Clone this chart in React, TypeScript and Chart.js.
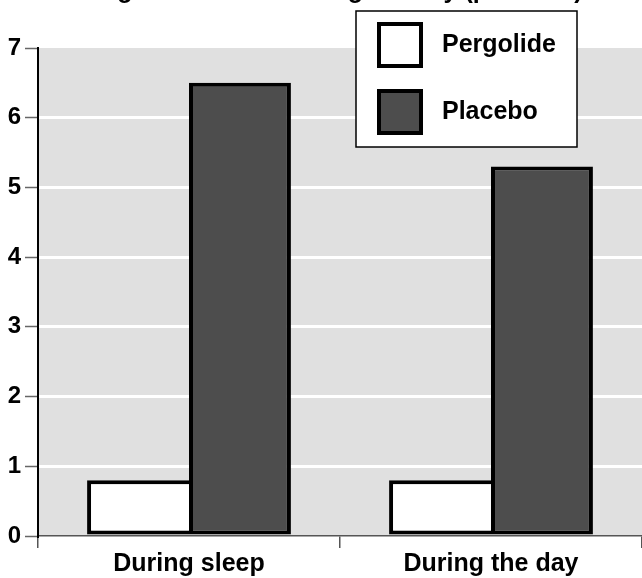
import React, { useEffect, useRef } from "react";
import { Chart, registerables } from "chart.js";

Chart.register(...registerables);

const TITLE = "Leg movements during the day (per hour)";
const CATEGORIES = ["During sleep", "During the day"];
const SERIES_NAMES = ["Pergolide", "Placebo"];
const PERGOLIDE = [0.8, 0.8];
const PLACEBO = [6.5, 5.3];
const Y_MIN = 0;
const Y_MAX = 7;

const FONT = "'Liberation Sans', Arial, Helvetica, sans-serif";
const COLORS = ["#ffffff", "#4d4d4d"];

const bgPlugin = {
  id: "bgPlugin",
  beforeDraw(chart: any) {
    const { ctx, chartArea } = chart;
    ctx.save();
    ctx.fillStyle = "#e0e0e0";
    ctx.fillRect(chartArea.left, chartArea.top, chartArea.right - chartArea.left, chartArea.bottom - chartArea.top);
    ctx.restore();
  },
};

const titlePlugin = {
  id: "titlePlugin",
  afterDraw(chart: any) {
    const { ctx } = chart;
    ctx.save();
    ctx.font = `bold 25px ${FONT}`;
    ctx.fillStyle = "#000";
    ctx.textAlign = "left";
    ctx.textBaseline = "alphabetic";
    ctx.fillText(TITLE, 88, -2);
    ctx.restore();
  },
};

const legendPlugin = {
  id: "legendPlugin",
  afterDraw(chart: any) {
    const { ctx } = chart;
    const bx = 356, by = 11, bw = 221, bh = 136;
    ctx.save();
    ctx.fillStyle = "#fff";
    ctx.fillRect(bx, by, bw, bh);
    ctx.strokeStyle = "#000";
    ctx.lineWidth = 1.5;
    ctx.strokeRect(bx, by, bw, bh);
    chart.data.datasets.forEach((ds: any, i: number) => {
      const sx = 377, sy = 22 + i * 67, s = 46;
      ctx.fillStyle = ds.backgroundColor;
      ctx.fillRect(sx, sy, s, s);
      ctx.strokeStyle = "#000";
      ctx.lineWidth = 4;
      ctx.strokeRect(sx + 2, sy + 2, s - 4, s - 4);
      ctx.fillStyle = "#000";
      ctx.font = `bold 25px ${FONT}`;
      ctx.textAlign = "left";
      ctx.textBaseline = "middle";
      ctx.fillText(ds.label, 442, sy + s / 2);
    });
    ctx.restore();
  },
};

export default function App() {
  const ref = useRef<HTMLCanvasElement | null>(null);
  useEffect(() => {
    document.body.style.margin = "0";
    const chart = new Chart(ref.current as HTMLCanvasElement, {
      type: "bar",
      data: {
        labels: CATEGORIES,
        datasets: [
          {
            label: SERIES_NAMES[0],
            data: PERGOLIDE,
            backgroundColor: COLORS[0],
            borderColor: "#000",
            borderWidth: 4,
            borderSkipped: "right",
            barPercentage: 1,
            categoryPercentage: 0.675,
          },
          {
            label: SERIES_NAMES[1],
            data: PLACEBO,
            backgroundColor: COLORS[1],
            borderColor: "#000",
            borderWidth: 4,
            borderSkipped: false,
            barPercentage: 1,
            categoryPercentage: 0.675,
          },
        ],
      },
      options: {
        responsive: false,
        animation: false,
        devicePixelRatio: 1,
        layout: { padding: { top: 48, left: 0, right: 0, bottom: 0 } },
        plugins: { legend: { display: false }, title: { display: false }, tooltip: { enabled: false } },
        scales: {
          x: {
            offset: true,
            afterFit(scale: any) {
              scale.height = 42;
            },
            grid: {
              offset: true,
              drawOnChartArea: false,
              color: "#555",
              tickLength: 12,
              lineWidth: 1.5,
            },
            border: { display: true, color: "#555", width: 1.5 },
            ticks: {
              color: "#000",
              padding: 1,
              font: { family: FONT, size: 25, weight: "bold" },
            },
          },
          y: {
            min: Y_MIN,
            max: Y_MAX,
            afterFit(scale: any) {
              scale.width = 38;
            },
            grid: {
              color: (c: any) => (c.tick && (c.tick.value === Y_MIN || c.tick.value === Y_MAX) ? "rgba(0,0,0,0)" : "#ffffff"),
              lineWidth: 3,
              tickColor: "#666",
              tickWidth: 1.5,
              tickLength: 13,
            },
            border: { display: true, color: "#000", width: 2 },
            ticks: {
              stepSize: 1,
              color: "#000",
              padding: 4,
              font: { family: FONT, size: 24, weight: "bold" },
            },
          },
        },
      },
      plugins: [bgPlugin, titlePlugin, legendPlugin],
    } as any);
    return () => chart.destroy();
  }, []);
  return (
    <div style={{ position: "fixed", left: 0, top: 0, width: 642, height: 578, background: "#fff" }}>
      <canvas ref={ref} width={642} height={578} style={{ width: 642, height: 578, display: "block" }} />
    </div>
  );
}
